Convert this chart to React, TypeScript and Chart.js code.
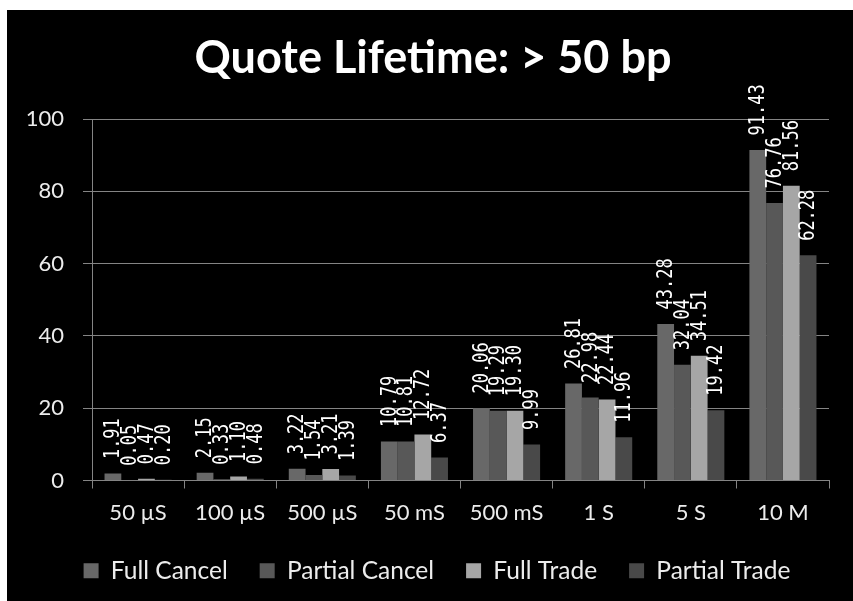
import React, { useEffect, useRef } from "react";
import { Chart, registerables } from "chart.js";

Chart.register(...registerables);

const titleText = "Quote Lifetime: > 50 bp";
const categories = ["50 µS", "100 µS", "500 µS", "50 mS", "500 mS", "1 S", "5 S", "10 M"];
const seriesNames = ["Full Cancel", "Partial Cancel", "Full Trade", "Partial Trade"];
const fullCancel = [1.91, 2.15, 3.22, 10.79, 20.06, 26.81, 43.28, 91.43];
const partialCancel = [0.05, 0.33, 1.54, 10.81, 19.29, 22.98, 32.04, 76.76];
const fullTrade = [0.47, 1.1, 3.21, 12.72, 19.3, 22.44, 34.51, 81.56];
const partialTrade = [0.2, 0.48, 1.39, 6.37, 9.99, 11.96, 19.42, 62.28];
const yMin = 0;
const yMax = 100;
const yStep = 20;

const seriesColors = ["#686868", "#585858", "#a6a6a6", "#494949"];
const gridColor = "#848484";
const textColor = "#ececec";

const barLabelPlugin = {
  id: "barLabels",
  afterDatasetsDraw(chart: any) {
    const ctx = chart.ctx;
    ctx.save();
    ctx.font = "17px 'DejaVu Sans Mono'";
    ctx.fillStyle = "#ffffff";
    ctx.textAlign = "left";
    ctx.textBaseline = "middle";
    chart.data.datasets.forEach((ds: any, i: number) => {
      const meta = chart.getDatasetMeta(i);
      meta.data.forEach((el: any, j: number) => {
        const v = ds.data[j] as number;
        ctx.save();
        ctx.translate(el.x + 1, el.y - 14.5);
        ctx.rotate(-Math.PI / 2);
        ctx.scale(1, 1.2);
        ctx.fillText(v.toFixed(2), 0, 0);
        ctx.restore();
      });
    });
    ctx.restore();
  },
};

// shifts the title and legend boxes horizontally to match the reference centring
const shiftBoxesPlugin = {
  id: "shiftBoxes",
  afterLayout(chart: any) {
    if (chart.titleBlock) {
      chart.titleBlock.left += 15;
      chart.titleBlock.right += 15;
    }
    if (chart.legend) {
      chart.legend.left += 19;
      chart.legend.right += 19;
    }
  },
};

export default function App() {
  const canvasRef = useRef<HTMLCanvasElement | null>(null);

  useEffect(() => {
    if (!canvasRef.current) return;
    const seriesData = [fullCancel, partialCancel, fullTrade, partialTrade];
    const chart = new Chart(canvasRef.current, {
      type: "bar",
      data: {
        labels: categories,
        datasets: seriesNames.map((name, i) => ({
          label: name,
          data: seriesData[i],
          backgroundColor: seriesColors[i],
          borderWidth: 0,
          categoryPercentage: 0.728,
          barPercentage: 1,
        })),
      },
      options: {
        animation: false,
        responsive: true,
        maintainAspectRatio: false,
        layout: { padding: { left: 0, right: 24, top: 0, bottom: 8 } },
        plugins: {
          title: {
            display: true,
            text: titleText,
            color: "#ffffff",
            font: { family: "Lato", size: 45, weight: "bold" },
            padding: { top: 21, bottom: 34 },
          },
          legend: {
            display: true,
            position: "bottom",
            labels: {
              color: textColor,
              font: { family: "Lato", size: 24.5 },
              boxWidth: 15,
              boxHeight: 15,
              padding: 32,
            },
          },
          tooltip: { enabled: false },
        },
        scales: {
          x: {
            grid: {
              display: true,
              offset: true,
              drawOnChartArea: false,
              drawTicks: true,
              tickLength: 8,
              color: gridColor,
            },
            border: { display: true, color: gridColor, width: 1 },
            ticks: {
              color: textColor,
              font: { family: "Lato", size: 22 },
              padding: 11,
              maxRotation: 0,
              autoSkip: false,
            },
            afterFit(scale: any) {
              scale.height = 46;
            },
          },
          y: {
            min: yMin,
            max: yMax,
            grid: {
              display: true,
              color: gridColor,
              drawTicks: true,
              tickLength: 9,
            },
            border: { display: true, color: gridColor, width: 1 },
            ticks: {
              stepSize: yStep,
              color: textColor,
              font: { family: "Lato", size: 22 },
              padding: 19,
            },
            afterFit(scale: any) {
              scale.width = 85;
            },
          },
        },
      },
      plugins: [barLabelPlugin, shiftBoxesPlugin],
    });
    return () => chart.destroy();
  }, []);

  return (
    <div
      style={{
        position: "fixed",
        left: 7,
        top: 10,
        width: 846,
        height: 591,
        background: "#000000",
      }}
    >
      <canvas ref={canvasRef} />
    </div>
  );
}
